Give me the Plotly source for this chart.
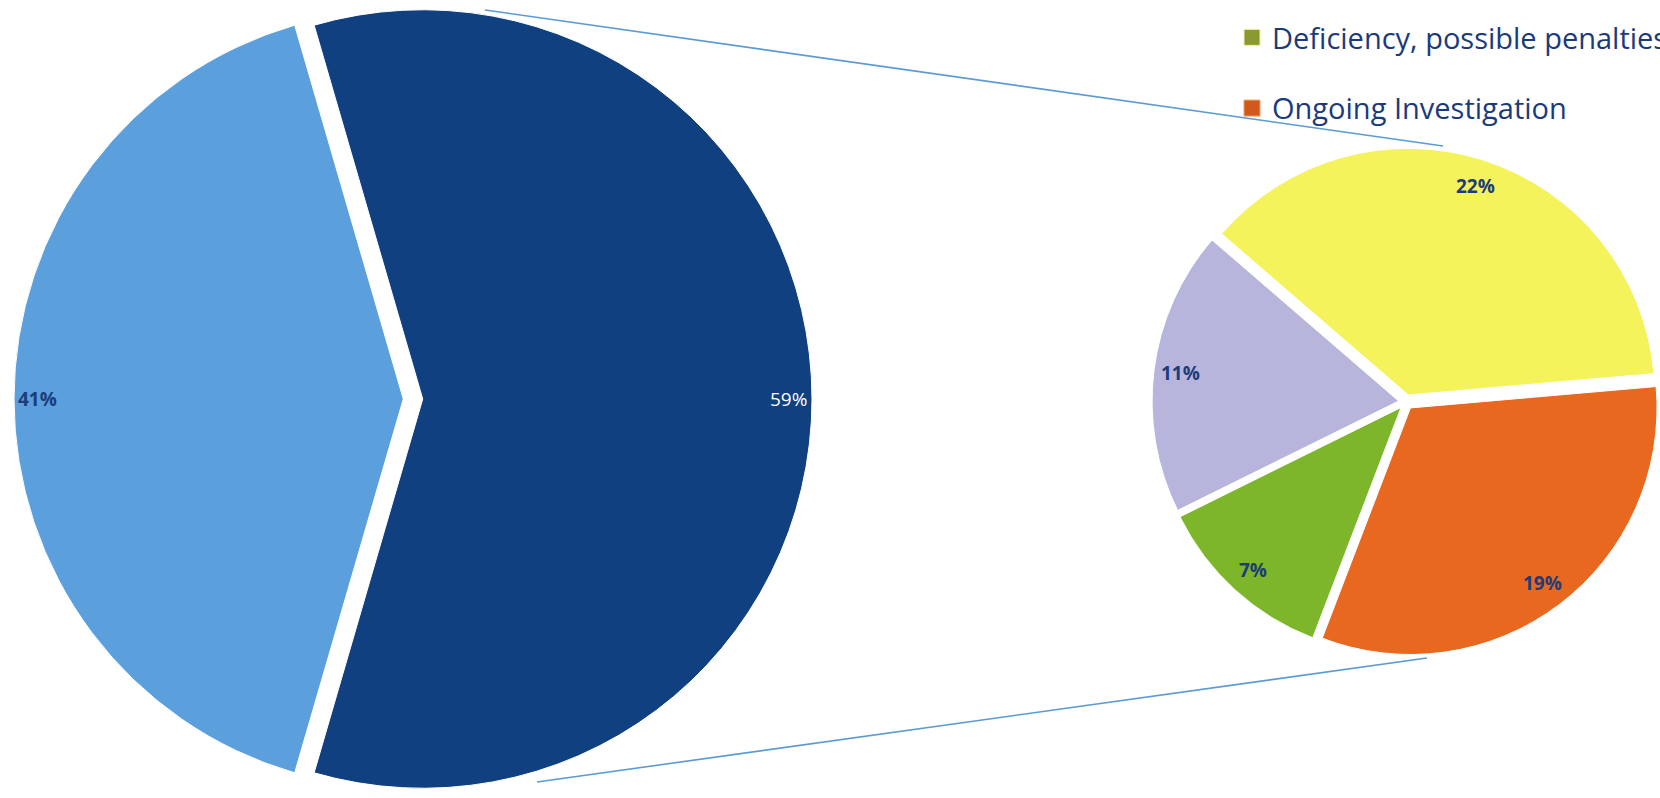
import math
import plotly.graph_objects as go

# ---------------- data ----------------
big_labels = ["Category 59%", "Category 41%"]
big_values = [59, 41]
big_colors = ["#10407f", "#5b9fdc"]
big_text_colors = ["#ffffff", "#1c3d7a"]
big_text_bold = [False, True]

small_labels = ["Category 22%", "Ongoing Investigation", "Deficiency, possible penalties", "Category 11%"]
small_values = [22, 19, 7, 11]
small_colors = ["#f4f35c", "#e9681f", "#7db52b", "#b7b5dc"]

legend_names = ["Deficiency, possible penalties", "Ongoing Investigation"]
legend_colors = ["#8a9a30", "#d2581e"]

# ---------------- layout parameters ----------------
W, H = 1660, 798
NAVY = "#1c3d7a"

big_dom_x = [9 / W, 817 / W]
big_dom_y = [0.0, 1.0]
big_pull = 0.025

small_dom_x = [1152 / W, 1.0]
small_dom_y = [1 - 656 / H, 1 - 148 / H]
small_pull = 0.03


def geom(dx, dy, pull):
    w = (dx[1] - dx[0]) * W
    h = (dy[1] - dy[0]) * H
    r = min(w, h) / (2 + 2 * pull)
    cx = (dx[0] + dx[1]) / 2 * W
    cy = (1 - (dy[0] + dy[1]) / 2) * H
    return cx, cy, r


big_total = sum(big_values)
light_deg = big_values[1] / big_total * 360
big_rotation = 270 + light_deg / 2 - 360

small_total = sum(small_values)
small_rotation = -(139.2 - 90)

fig = go.Figure()

fig.add_trace(go.Pie(
    labels=big_labels, values=big_values, sort=False, direction="clockwise",
    rotation=big_rotation, pull=[big_pull] * 2, textinfo="none",
    marker=dict(colors=big_colors, line=dict(color="white", width=1)),
    domain=dict(x=big_dom_x, y=big_dom_y), showlegend=False, hoverinfo="label+percent",
))

fig.add_trace(go.Pie(
    labels=small_labels, values=small_values, sort=False, direction="clockwise",
    rotation=small_rotation, pull=[small_pull] * 4, textinfo="none",
    marker=dict(colors=small_colors, line=dict(color="white", width=1)),
    domain=dict(x=small_dom_x, y=small_dom_y), showlegend=False, hoverinfo="label+value",
))

# legend entries (two visible items)
for i, (n, c) in enumerate(zip(legend_names, legend_colors)):
    fig.add_trace(go.Scatter(
        x=[None], y=[None], mode="markers", name=n, legendgroup=f"g{i}",
        marker=dict(symbol="square", size=16, color=c,
                    line=dict(color="#f3f0a0" if i == 0 else "#f0a060", width=1)),
    ))

annotations = []


def add_labels(values, rotation, dx, dy, pull, frac, colors, bolds, pct_total):
    cx, cy, r = geom(dx, dy, pull)
    total = sum(values)
    cum = 0
    for v, col, b in zip(values, colors, bolds):
        mid = rotation + (cum + v / 2) / total * 360
        cum += v
        th = math.radians(mid)
        rr = r * (frac + pull)
        px = cx + rr * math.sin(th)
        py = cy - rr * math.cos(th)
        txt = f"{round(v / pct_total * 100)}%"
        if b:
            txt = f"<b>{txt}</b>"
        annotations.append(dict(
            x=px / W, y=1 - py / H, xref="paper", yref="paper", text=txt,
            xanchor="center", yanchor="middle",
            showarrow=False, font=dict(family="Open Sans", size=19, color=col),
        ))


add_labels(big_values, big_rotation, big_dom_x, big_dom_y, big_pull, 0.94,
           big_text_colors, big_text_bold, big_total)
add_labels(small_values, small_rotation, small_dom_x, small_dom_y, small_pull, 0.89,
           [NAVY] * 4, [True] * 4, big_total)

# connector lines between the two pies
connectors = [((485, 10), (1443, 146)), ((537, 782), (1427, 658))]
shapes = []
for (x0, y0), (x1, y1) in connectors:
    shapes.append(dict(type="line", xref="paper", yref="paper",
                       x0=x0 / W, y0=1 - y0 / H, x1=x1 / W, y1=1 - y1 / H,
                       line=dict(color="#5b9bd5", width=1.6)))

fig.update_layout(
    width=W, height=H,
    margin=dict(l=0, r=0, t=0, b=0, autoexpand=False),
    paper_bgcolor="white", plot_bgcolor="white",
    xaxis=dict(visible=False), yaxis=dict(visible=False),
    annotations=annotations, shapes=shapes,
    showlegend=True,
    legend=dict(x=1232 / W, y=1 - 12 / H, xanchor="left", yanchor="top",
                traceorder="grouped", tracegroupgap=30,
                bgcolor="rgba(0,0,0,0)",
                font=dict(family="Open Sans", size=29, color="#1b3a7c")),
)

fig.write_html("out.html")
